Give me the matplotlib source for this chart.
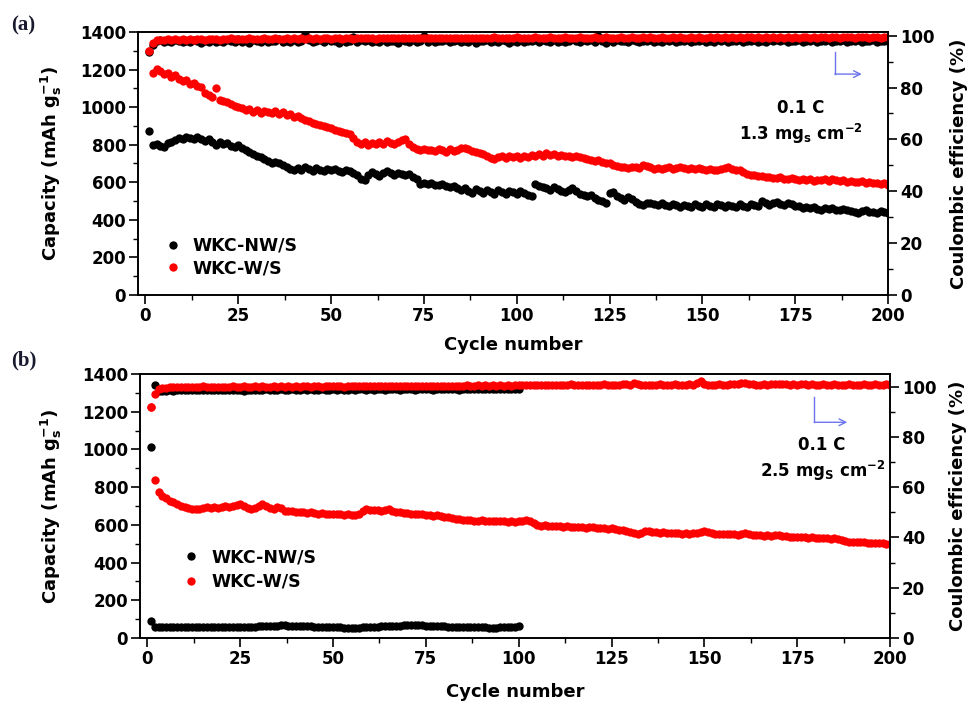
import numpy as np
import matplotlib.pyplot as plt
from matplotlib.ticker import MultipleLocator

plt.rcParams['font.family'] = ['DejaVu Sans']
plt.rcParams['font.weight'] = 'bold'
plt.rcParams['mathtext.fontset'] = 'custom'
plt.rcParams['mathtext.rm'] = 'DejaVu Sans:bold'
plt.rcParams['mathtext.bf'] = 'DejaVu Sans:bold'
plt.rcParams['mathtext.default'] = 'bf'

# ---------------- data : panel (a) ----------------
cycles_a = np.arange(1, 201)

cap_a_nw = [875, 800, 805, 795, 790, 810, 815, 825, 835, 830,
            840, 835, 830, 842, 828, 820, 832, 815, 800, 812,
            805, 808, 795, 790, 800, 785, 770, 760, 750, 740,
            735, 725, 712, 705, 708, 700, 690, 680, 672, 668,
            675, 665, 680, 670, 662, 675, 668, 660, 672, 665,
            670, 660, 655, 668, 660, 650, 640, 620, 612, 640,
            655, 645, 632, 650, 660, 648, 640, 652, 645, 638,
            642, 628, 620, 590, 598, 592, 595, 588, 585, 590,
            580, 575, 582, 570, 560, 568, 555, 545, 565, 555,
            545, 560, 550, 540, 558, 548, 538, 555, 548, 540,
            552, 545, 532, 528, 592, 580, 575, 568, 560, 575,
            565, 555, 548, 560, 570, 555, 540, 532, 525, 530,
            515, 508, 500, 490, 545, 548, 525, 515, 508, 522,
            510, 495, 485, 480, 492, 488, 482, 478, 490, 478,
            472, 485, 478, 470, 480, 475, 468, 482, 475, 470,
            482, 476, 470, 485, 478, 470, 480, 474, 468, 482,
            476, 470, 485, 480, 475, 502, 490, 480, 488, 495,
            485, 478, 490, 482, 475, 472, 465, 470, 462, 468,
            460, 455, 465, 458, 462, 455, 450, 458, 452, 448,
            440, 438, 445, 450, 442, 440, 438, 445, 440, 435]

cap_a_w = [1300, 1180, 1205, 1190, 1175, 1180, 1160, 1170, 1150, 1140,
           1145, 1125, 1130, 1110, 1105, 1075, 1065, 1055, 1100, 1040,
           1035, 1030, 1015, 1005, 1000, 995, 985, 990, 975, 985,
           970, 980, 975, 970, 978, 965, 972, 960, 965, 950,
           955, 940, 930, 925, 915, 910, 905, 900, 895, 890,
           880, 875, 870, 865, 858, 835, 815, 805, 815, 800,
           810, 805, 815, 805, 820, 810, 805, 815, 825, 830,
           805, 790, 775, 770, 778, 770, 772, 765, 778, 770,
           760, 775, 765, 770, 780, 783, 775, 765, 760, 755,
           748, 740, 730, 725, 735, 738, 730, 742, 735, 740,
           730, 740, 735, 745, 738, 748, 740, 755, 745, 748,
           740, 745, 738, 742, 735, 740, 735, 728, 725, 720,
           715, 718, 710, 705, 700, 690, 685, 680, 682, 678,
           680, 683, 678, 690, 685, 680, 672, 678, 670, 675,
           680, 672, 678, 682, 675, 672, 675, 670, 676, 672,
           668, 670, 665, 668, 672, 678, 682, 672, 668, 665,
           655, 645, 640, 638, 632, 636, 628, 630, 625, 622,
           628, 620, 618, 622, 616, 614, 618, 612, 615, 608,
           612, 610, 615, 608, 618, 612, 605, 610, 603, 608,
           602, 600, 606, 598, 600, 595, 598, 592, 596, 588]

ce_a_nw = [93.6, 96.5, 97.8, 98.2, 97.6, 98.0, 97.4, 98.3, 97.8, 97.5,
           98.1, 97.6, 98.4, 97.9, 97.3, 98.0, 97.7, 98.5, 97.6, 97.9,
           97.4, 98.2, 97.8, 97.5, 98.6, 97.7, 98.0, 97.3, 98.4, 97.9,
           97.6, 98.3, 97.5, 98.0, 97.8, 98.7, 97.4, 98.1, 97.7, 98.3,
           97.5, 98.0, 100.6, 98.4, 97.6, 97.9, 98.2, 97.4, 98.6, 97.8,
           98.1, 97.3, 98.4, 97.7, 98.0, 99.6, 97.5, 98.2, 97.8, 98.5,
           97.4, 98.0, 97.7, 98.3, 97.5, 98.1, 97.8, 97.2, 98.4, 97.9,
           97.6, 98.2, 97.4, 98.0, 99.8, 97.7, 98.3, 97.5, 98.1, 97.8,
           98.4, 97.6, 97.9, 98.2, 97.4, 98.0, 97.7, 98.5, 97.3, 98.1,
           97.8, 98.3, 97.5, 98.0, 97.6, 98.4, 97.8, 97.2, 98.1, 97.7,
           98.3, 97.5, 98.0, 97.8, 98.5, 97.4, 98.2, 97.9, 97.6, 98.3,
           97.7, 98.1, 97.4, 98.0, 98.6, 97.8, 97.5, 98.2, 97.9, 98.4,
           97.6, 99.9, 98.0, 97.3, 98.2, 97.7, 98.4, 97.8, 98.0, 97.5,
           98.3, 97.9, 97.6, 98.1, 97.8, 98.5, 97.4, 98.0, 97.7, 98.3,
           97.9, 98.2, 97.5, 98.0, 97.8, 98.4, 97.6, 98.1, 97.9, 98.3,
           97.7, 98.0, 97.5, 98.2, 97.9, 98.4, 97.6, 98.0, 97.8, 98.3,
           97.5, 98.1, 97.9, 98.4, 97.7, 98.0, 97.6, 98.3, 97.8, 98.2,
           97.9, 98.4, 97.6, 98.0, 97.8, 98.3, 97.5, 98.1, 97.9, 98.2,
           97.7, 98.0, 97.8, 98.4, 97.6, 98.1, 97.9, 98.3, 97.7, 98.0,
           97.8, 98.2, 97.6, 98.0, 97.9, 98.3, 97.7, 98.1, 97.8, 98.0]

ce_a_w = [94.0, 97.0, 98.2, 98.5, 98.3, 98.6, 98.4, 98.7, 98.5, 98.6,
          98.4, 98.7, 98.5, 98.8, 98.6, 98.5, 98.8, 98.6, 98.7, 98.5,
          98.8, 98.6, 98.9, 98.7, 98.6, 98.8, 98.7, 98.9, 98.6, 98.8,
          98.7, 98.9, 98.8, 98.6, 98.9, 98.7, 98.8, 99.0, 98.7, 98.9,
          98.8, 99.0, 98.7, 98.9, 98.8, 99.0, 98.8, 98.9, 99.1, 98.8,
          98.9, 99.0, 98.8, 99.1, 98.9, 98.8, 99.0, 98.9, 99.1, 98.9,
          99.0, 98.8, 99.1, 98.9, 99.0, 99.2, 98.9, 99.0, 99.1, 98.9,
          99.1, 99.0, 98.9, 99.2, 99.0, 99.1, 98.9, 99.0, 99.2, 99.0,
          99.1, 98.9, 99.2, 99.0, 99.1, 99.0, 99.2, 98.9, 99.1, 99.0,
          99.2, 99.0, 99.1, 99.3, 99.0, 99.1, 99.2, 99.0, 99.1, 99.3,
          99.0, 99.2, 99.1, 99.0, 99.3, 99.1, 99.2, 99.0, 99.4, 99.1,
          99.2, 99.0, 99.3, 99.1, 99.2, 99.1, 99.3, 99.0, 99.2, 99.1,
          99.3, 99.1, 99.2, 99.4, 99.1, 99.2, 99.0, 99.3, 99.2, 99.1,
          99.3, 99.2, 99.1, 99.3, 99.2, 99.4, 99.1, 99.2, 99.3, 99.1,
          99.2, 99.4, 99.1, 99.3, 99.2, 99.1, 99.3, 99.2, 99.4, 99.2,
          99.1, 99.3, 99.2, 99.4, 99.1, 99.3, 99.2, 99.4, 99.2, 99.3,
          99.1, 99.3, 99.4, 99.2, 99.3, 99.1, 99.4, 99.2, 99.3, 99.2,
          99.4, 99.2, 99.3, 99.1, 99.4, 99.2, 99.3, 99.5, 99.2, 99.3,
          99.2, 99.4, 99.3, 99.2, 99.5, 99.3, 99.2, 99.4, 99.3, 99.5,
          99.2, 99.4, 99.3, 99.5, 99.2, 99.4, 99.3, 99.2, 99.4, 99.3]

# ---------------- data : panel (b) ----------------
cycles_b_nw = np.arange(1, 101)
cycles_b_w = np.arange(1, 201)

cap_b_nw = [88, 58, 57, 58, 57, 58, 57, 58, 58, 57,
            58, 58, 57, 58, 58, 59, 58, 58, 59, 58,
            59, 59, 60, 59, 58, 57, 56, 58, 60, 62,
            63, 64, 65, 66, 66, 67, 67, 66, 66, 65,
            64, 63, 62, 61, 60, 59, 58, 58, 57, 57,
            56, 56, 55, 55, 55, 55, 55, 56, 56, 57,
            58, 60, 61, 62, 63, 64, 65, 66, 67, 67,
            68, 68, 68, 67, 66, 65, 64, 63, 62, 61,
            60, 60, 59, 59, 58, 58, 57, 57, 56, 56,
            56, 55, 55, 55, 56, 56, 57, 58, 60, 62]

cap_b_w = [1223, 838, 773, 755, 740, 728, 720, 712, 702, 695,
           688, 684, 686, 683, 688, 693, 690, 695, 688, 692,
           698, 694, 700, 705, 710, 700, 688, 684, 690, 698,
           711, 700, 690, 684, 695, 688, 675, 672, 675, 670,
           668, 670, 665, 668, 663, 660, 662, 658, 660, 657,
           655, 657, 652, 655, 650, 652, 660, 675, 684, 680,
           676, 678, 674, 680, 686, 675, 670, 668, 665, 662,
           660, 658, 660, 655, 652, 650, 648, 650, 645, 642,
           640, 636, 632, 630, 626, 628, 624, 620, 622, 625,
           622, 618, 620, 618, 622, 620, 616, 618, 614, 620,
           618, 624, 620, 610, 600, 596, 598, 594, 596, 592,
           594, 590, 592, 588, 590, 586, 588, 584, 586, 588,
           585, 582, 584, 580, 582, 578, 575, 572, 566, 560,
           555, 552, 555, 568, 565, 560, 562, 558, 560, 556,
           558, 555, 557, 553, 556, 554, 558, 556, 562, 568,
           560, 556, 554, 552, 550, 552, 549, 551, 548, 552,
           556, 552, 548, 545, 547, 543, 545, 542, 544, 546,
           543, 541, 538, 536, 535, 533, 535, 532, 534, 530,
           532, 528, 530, 527, 528, 524, 518, 512, 510, 508,
           510, 507, 508, 505, 506, 503, 504, 501, 500, 498]

ce_b_nw = [76.0, 100.8, 98.2, 98.4, 98.3, 98.5, 98.4, 98.5, 98.6, 98.5,
           98.6, 98.5, 98.7, 98.6, 98.5, 98.7, 98.6, 98.7, 98.6, 98.8,
           98.7, 98.6, 98.8, 98.7, 98.6, 98.2, 98.7, 98.8, 98.7, 98.8,
           98.7, 98.9, 98.8, 98.7, 98.8, 98.9, 98.7, 98.8, 98.9, 98.8,
           98.7, 98.9, 98.8, 98.9, 98.7, 98.8, 98.9, 98.8, 98.7, 98.9,
           98.8, 98.9, 98.7, 98.8, 98.9, 98.8, 98.9, 99.0, 98.8, 98.9,
           98.8, 98.9, 99.0, 98.8, 98.9, 99.0, 98.9, 98.8, 99.0, 98.9,
           99.0, 98.8, 98.9, 99.0, 98.9, 99.0, 98.8, 98.9, 99.0, 98.9,
           99.0, 98.9, 99.0, 98.8, 98.9, 99.0, 98.9, 99.1, 98.9, 99.0,
           98.9, 99.0, 99.1, 98.9, 99.0, 99.1, 99.0, 98.9, 99.1, 99.0]

ce_b_w = [91.8, 97.1, 98.9, 99.4, 99.6, 99.7, 99.8, 99.7, 99.9, 99.8,
          99.9, 99.8, 100.0, 99.9, 100.2, 99.9, 100.0, 99.8, 100.0, 99.9,
          100.0, 99.9, 100.1, 100.0, 99.9, 100.1, 100.0, 99.9, 100.1, 100.0,
          100.1, 100.0, 99.9, 100.1, 100.0, 100.2, 100.0, 100.1, 99.9, 100.1,
          100.0, 100.2, 100.1, 100.0, 100.2, 100.1, 100.0, 100.2, 100.1, 100.2,
          100.1, 100.2, 100.0, 100.2, 100.1, 100.3, 100.1, 100.2, 100.1, 100.3,
          100.2, 100.1, 100.3, 100.2, 100.3, 100.1, 100.3, 100.2, 100.3, 100.2,
          100.4, 100.2, 100.3, 100.2, 100.4, 100.3, 100.2, 100.4, 100.3, 100.4,
          100.3, 100.4, 100.2, 100.4, 100.3, 100.5, 100.3, 100.4, 100.5, 100.3,
          100.5, 100.4, 100.5, 100.3, 100.5, 100.4, 100.6, 100.4, 100.5, 100.6,
          100.5, 100.7, 100.5, 100.6, 100.8, 100.6, 100.7, 100.5, 100.7, 100.6,
          100.8, 100.6, 100.7, 100.9, 100.6, 100.7, 100.8, 100.6, 100.8, 100.7,
          100.8, 100.7, 100.9, 100.7, 100.8, 100.6, 100.8, 100.9, 101.2, 100.8,
          101.3, 100.9, 100.7, 100.8, 100.6, 100.8, 100.7, 100.9, 100.6, 100.8,
          100.7, 100.9, 100.6, 100.8, 100.7, 100.9, 100.8, 101.4, 102.0, 101.2,
          100.7, 100.8, 100.6, 100.9, 100.7, 100.8, 100.9, 101.0, 101.2, 101.4,
          101.5, 101.2, 100.9, 100.8, 100.7, 100.9, 100.8, 101.0, 101.1, 101.2,
          101.0, 100.9, 100.8, 100.9, 100.8, 101.0, 100.9, 100.8, 100.9, 100.7,
          100.8, 100.9, 100.8, 100.7, 100.9, 100.8, 100.7, 100.8, 100.9, 100.8,
          100.7, 100.8, 100.9, 100.7, 100.8, 100.9, 100.8, 100.7, 100.9, 100.8]

labels = ['WKC-NW/S', 'WKC-W/S']
colors = ['#000000', '#ff0000']
MS = 6.0

fig = plt.figure(figsize=(9.68, 7.02), dpi=100)
ax_a = fig.add_axes([0.1426, 0.5798, 0.7748, 0.3746])
ax_b = fig.add_axes([0.1446, 0.0912, 0.7748, 0.3761])


def style(ax, ax2, ce_top):
    ax.set_xlim(-2, 200)
    ax.set_ylim(0, 1400)
    ax2.set_ylim(0, ce_top)
    ax.xaxis.set_major_locator(MultipleLocator(25))
    ax.xaxis.set_minor_locator(MultipleLocator(12.5))
    ax.yaxis.set_major_locator(MultipleLocator(200))
    ax.yaxis.set_minor_locator(MultipleLocator(100))
    ax2.yaxis.set_major_locator(MultipleLocator(20))
    ax2.yaxis.set_minor_locator(MultipleLocator(10))
    for a in (ax, ax2):
        for sp in a.spines.values():
            sp.set_linewidth(1.2)
        a.tick_params(which='major', direction='out', length=6.5, width=1.2,
                      labelsize=12, pad=2)
        a.tick_params(which='minor', direction='out', length=3.5, width=1.0)
    ax.tick_params(top=False, right=False, which='both')
    ax.set_xlabel('Cycle number', fontsize=13, fontweight='bold')
    ax.set_ylabel(r'Capacity (mAh g$_\mathregular{s}^\mathregular{-1}$)',
                  fontsize=13, fontweight='bold')
    ax2.set_ylabel('Coulombic efficiency (%)', fontsize=13, fontweight='bold')


def arrow(ax, x0, y0, y1, x1):
    c = '#6b74ee'
    ax.plot([x0, x0], [y0, y1], transform=ax.transAxes, color=c, lw=1.0)
    ax.annotate('', xy=(x1, y1), xytext=(x0, y1), xycoords='axes fraction',
                arrowprops=dict(arrowstyle='->', color=c, lw=1.0,
                                shrinkA=0, shrinkB=0, mutation_scale=12))


# panel (a)
ax_a2 = ax_a.twinx()
ax_a2.set_position(ax_a.get_position())
style(ax_a, ax_a2, 101.4)
hs = []
for cap, lab, col in zip([cap_a_nw, cap_a_w], labels, colors):
    h, = ax_a.plot(cycles_a, cap, 'o', ms=MS, mew=0, color=col, label=lab)
    hs.append(h)
for ce, col in zip([ce_a_nw, ce_a_w], colors):
    ax_a2.plot(cycles_a, ce, 'o', ms=MS, mew=0, color=col)
ax_a.legend(handles=hs, loc='lower left', bbox_to_anchor=(0.035, 0.068),
            frameon=False, borderpad=0, borderaxespad=0, handlelength=1.0,
            handletextpad=0.64, labelspacing=0.26,
            prop={'size': 12.5, 'weight': 'bold'})
arrow(ax_a2, 0.929, 0.925, 0.840, 0.965)
ax_a2.text(0.884, 0.711, '0.1 C', transform=ax_a2.transAxes, ha='center',
           va='center', fontsize=12, fontweight='bold')
ax_a2.text(0.884, 0.612, r'1.3 mg$_\mathregular{s}$ cm$^\mathregular{-2}$',
           transform=ax_a2.transAxes, ha='center', va='center',
           fontsize=12, fontweight='bold')
ax_a.xaxis.set_label_coords(0.5, -0.156)
ax_a.yaxis.set_label_coords(-0.099, 0.5)
ax_a2.yaxis.set_label_coords(1.083, 0.5)

# panel (b)
ax_b2 = ax_b.twinx()
ax_b2.set_position(ax_b.get_position())
style(ax_b, ax_b2, 105)
hs = []
h, = ax_b.plot(cycles_b_nw, cap_b_nw, 'o', ms=MS, mew=0, color=colors[0],
               label=labels[0])
hs.append(h)
h, = ax_b.plot(cycles_b_w, cap_b_w, 'o', ms=MS, mew=0, color=colors[1],
               label=labels[1])
hs.append(h)
ax_b2.plot(cycles_b_nw, ce_b_nw, 'o', ms=MS, mew=0, color=colors[0])
ax_b2.plot(cycles_b_w, ce_b_w, 'o', ms=MS, mew=0, color=colors[1])
ax_b.legend(handles=hs, loc='lower left', bbox_to_anchor=(0.057, 0.178),
            frameon=False, borderpad=0, borderaxespad=0, handlelength=1.0,
            handletextpad=0.65, labelspacing=0.38,
            prop={'size': 12.5, 'weight': 'bold'})
arrow(ax_b2, 0.899, 0.912, 0.817, 0.943)
ax_b2.text(0.909, 0.732, '0.1 C', transform=ax_b2.transAxes, ha='center',
           va='center', fontsize=12, fontweight='bold')
ax_b2.text(0.910, 0.634, r'2.5 mg$_\mathregular{S}$ cm$^\mathregular{-2}$',
           transform=ax_b2.transAxes, ha='center', va='center',
           fontsize=12, fontweight='bold')
ax_b.xaxis.set_label_coords(0.5, -0.170)
ax_b.yaxis.set_label_coords(-0.101, 0.5)
ax_b2.yaxis.set_label_coords(1.079, 0.5)

fig.text(0.011, 0.963, '(a)', family='Liberation Serif', fontsize=15,
         fontweight='bold', va='center', color='#1a1a2e')
fig.text(0.011, 0.487, '(b)', family='Liberation Serif', fontsize=15,
         fontweight='bold', va='center', color='#1a1a2e')

fig.savefig('out.png', dpi=100)
